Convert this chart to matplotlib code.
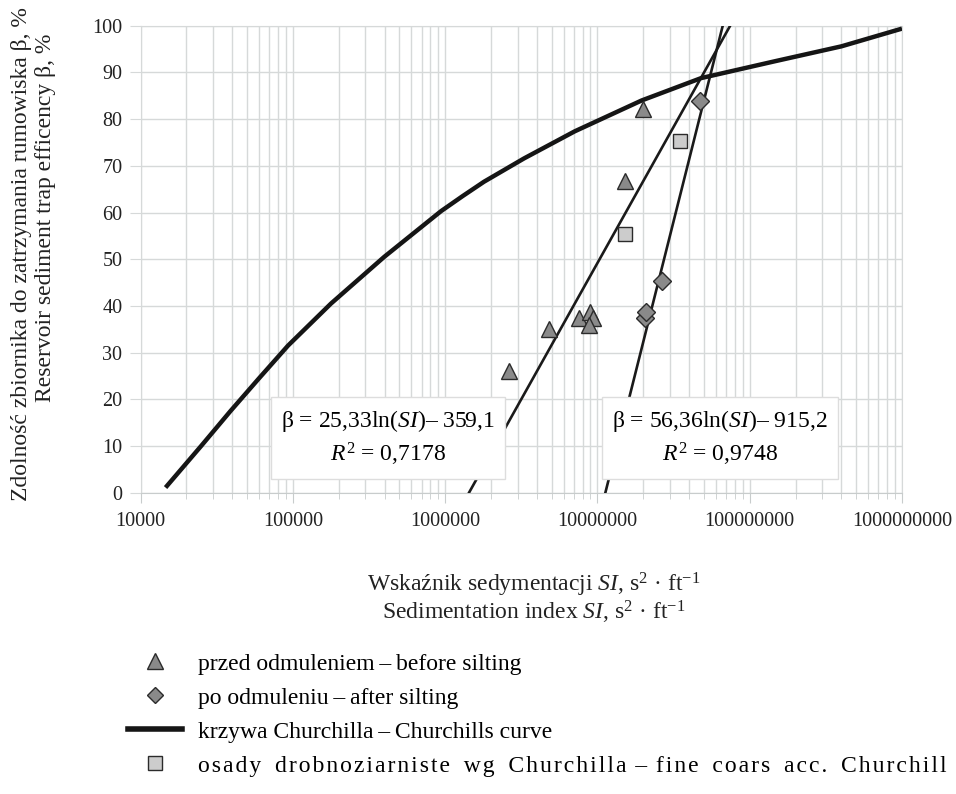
import numpy as np
import matplotlib
matplotlib.use("Agg")
import matplotlib.pyplot as plt
from matplotlib.ticker import FixedLocator, LogLocator, FuncFormatter, NullFormatter
from matplotlib.lines import Line2D
from matplotlib.legend_handler import HandlerLine2D

plt.rcParams['font.family'] = ['Liberation Serif', 'DejaVu Serif']
plt.rcParams['mathtext.fontset'] = 'custom'
plt.rcParams['mathtext.rm'] = 'Liberation Serif'
plt.rcParams['mathtext.it'] = 'Liberation Serif:italic'

# przed odmuleniem - before silting
before_si = [2.64e6, 4.83e6, 7.6e6, 8.9e6, 9.3e6, 8.8e6, 1.51e7, 1.98e7]
before_beta = [26.0, 35.0, 37.5, 38.6, 37.5, 36.0, 66.7, 82.2]

# po odmuleniu - after silting
after_si = [2.05e7, 2.1e7, 2.64e7, 4.69e7]
after_beta = [37.5, 38.8, 45.3, 83.9]

# osady drobnoziarniste wg Churchilla
fine_si = [1.51e7, 3.46e7]
fine_beta = [55.4, 75.3]

# krzywa Churchilla
church_si = [1.46e4, 2.5e4, 3.9e4, 6.0e4, 9.3e4, 1.78e5, 3.98e5, 9.4e5, 1.3e6,
             1.8e6, 3.3e6, 7.1e6, 1.95e7, 4.8e7, 1.46e8, 4.0e8, 1.0e9]
church_beta = [1.1, 10.0, 17.5, 24.5, 31.5, 40.5, 50.5, 60.3, 63.5,
               66.6, 71.6, 77.4, 84.0, 88.8, 92.4, 95.6, 99.4]

# trend lines: beta = a*ln(SI) + b
trend1 = (25.33, -359.1)
trend2 = (56.36, -915.2)

x_ticks = [1e4, 1e5, 1e6, 1e7, 1e8, 1e9]
y_ticks = list(range(0, 101, 10))

labels = [
    'przed odmuleniem\u2009–\u2009before silting',
    'po odmuleniu\u2009–\u2009after silting',
    'krzywa Churchilla\u2009–\u2009Churchills curve',
    'osady drobnoziarniste wg Churchilla\u2009–\u2009fine coars acc. Churchill',
]


class ShiftedMarker(HandlerLine2D):
    # marker sits right of the handle centre, like the original legend
    def get_xdata(self, legend, xdescent, ydescent, width, height, fontsize):
        xd, xdm = super().get_xdata(legend, xdescent, ydescent, width, height, fontsize)
        return xd, [x + 0.22 * width for x in xdm]


def spaced(s):
    # the last legend entry is set wider (letter spaced) in the original
    return '\u200a'.join(s).replace(' ', ' \u2006')


fig = plt.figure(figsize=(9.56, 7.94), dpi=100)
ax = fig.add_axes([0.147, 0.3795, 0.7965, 0.588])

grid_c = '#d6d9d9'
ax.set_xscale('log')
ax.set_xlim(1e4, 1e9)
ax.set_ylim(0, 100)
ax.xaxis.set_major_locator(FixedLocator(x_ticks))
ax.xaxis.set_minor_locator(LogLocator(base=10, subs=np.arange(2, 10)))
ax.xaxis.set_major_formatter(FuncFormatter(lambda v, p: '%d' % round(v)))
ax.xaxis.set_minor_formatter(NullFormatter())
ax.yaxis.set_major_locator(FixedLocator(y_ticks))
ax.grid(True, which='both', axis='x', color=grid_c, lw=1.0)
ax.grid(True, which='major', axis='y', color=grid_c, lw=1.0)
ax.set_axisbelow(True)
for s in ax.spines.values():
    s.set_color(grid_c)
ax.spines['bottom'].set_color('#c8cccc')
ax.tick_params(axis='x', which='major', length=7, color='#c8cccc', labelsize=14.5, pad=7)
ax.tick_params(axis='x', which='minor', length=4, color='#c8cccc', direction='out')
ax.tick_params(axis='y', length=8, color=grid_c, labelsize=14.5, pad=5)
for lab in ax.get_xticklabels() + ax.get_yticklabels():
    lab.set_color('#222222')

for a, b in (trend1, trend2):
    si = np.exp((np.array([0.0, 100.0]) - b) / a)
    ax.plot(si, a * np.log(si) + b, color='#1a1a1a', lw=1.9, zorder=3)

ax.plot(church_si, church_beta, color='#151515', lw=3.2, zorder=3,
        solid_capstyle='butt', solid_joinstyle='round')

ax.plot(before_si, before_beta, ls='none', marker='^', ms=12,
        mfc='#8a8a8a', mec='#2b2b2b', mew=1.0, zorder=4)
ax.plot(after_si, after_beta, ls='none', marker='D', ms=9.5,
        mfc='#8a8a8a', mec='#2b2b2b', mew=1.0, zorder=4)
ax.plot(fine_si, fine_beta, ls='none', marker='s', ms=10,
        mfc='#cccccc', mec='#2b2b2b', mew=1.0, zorder=4)

box = dict(boxstyle='square,pad=0.45', fc='white', ec='#dddddd', lw=1.0)
ax.text(0.325, 0.117,
        'β = 25,33ln($\\it{SI}$)– 359,1\n$R^2$ = 0,7178',
        transform=ax.transAxes, ha='center', va='center', fontsize=17,
        linespacing=1.35, multialignment='center', bbox=box, zorder=5)
ax.text(0.761, 0.117,
        'β = 56,36ln($\\it{SI}$)– 915,2\n$R^2$ = 0,9748',
        transform=ax.transAxes, ha='center', va='center', fontsize=17,
        linespacing=1.35, multialignment='center', bbox=box, zorder=5)

# axis titles
fig.text(0.023, 1 - 254 / 794, 'Zdolność zbiornika do zatrzymania rumowiska β, %',
         rotation=90, ha='center', va='center', fontsize=17, color='#222222')
fig.text(0.048, 1 - 218 / 794, 'Reservoir sediment trap efficency β, %',
         rotation=90, ha='center', va='center', fontsize=17, color='#222222')
fig.text(0.558, 1 - 585 / 794, 'Wskaźnik sedymentacji $\\it{SI}$, s$^2$ · ft$^{-1}$',
         ha='center', va='center', fontsize=17, color='#222222')
fig.text(0.558, 1 - 612 / 794, 'Sedimentation index $\\it{SI}$, s$^2$ · ft$^{-1}$',
         ha='center', va='center', fontsize=17, color='#222222')

# legend below the chart
handles = [
    Line2D([0], [0], ls='none', marker='^', ms=11, mfc='#8a8a8a', mec='#2b2b2b'),
    Line2D([0], [0], ls='none', marker='D', ms=8.5, mfc='#8a8a8a', mec='#2b2b2b'),
    Line2D([0], [0], color='#151515', lw=4),
    Line2D([0], [0], ls='none', marker='s', ms=10, mfc='#cccccc', mec='#2b2b2b'),
]
shown = labels[:3] + [spaced(labels[3])]
hm = {h: ShiftedMarker() for h in handles if h.get_linestyle() == 'None'}
fig.legend(handles, shown, loc='upper left', bbox_to_anchor=(0.134, 1 - 653 / 794),
           frameon=False, fontsize=17, handlelength=2.3, handletextpad=0.65,
           labelspacing=0.53, borderaxespad=0, borderpad=0, handler_map=hm)

fig.savefig('out.png', dpi=100)
